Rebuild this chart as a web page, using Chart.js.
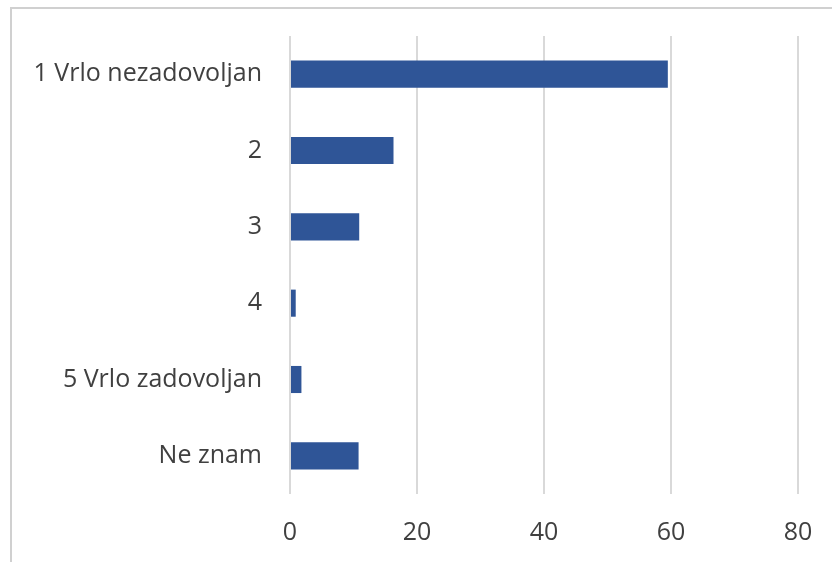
<!DOCTYPE html>
<html>
<head>
<meta charset="utf-8">
<script src="https://cdn.jsdelivr.net/npm/chart.js@4"></script>
<style>
  html, body { margin: 0; padding: 0; background: #fff; overflow: hidden; }
  #wrap { position: relative; width: 832px; height: 562px; }
  #frame { position: absolute; left: 10px; top: 7px; width: 900px; height: 700px;
           border: 2px solid #d0d0d0; box-sizing: border-box; }
  canvas { position: absolute; left: 0; top: 0; }
</style>
</head>
<body>
<div id="wrap">
  <div id="frame"></div>
  <canvas id="myChart" width="832" height="562"></canvas>
</div>
<script>
// Kategorije i vrijednosti
const kategorije = ['1 Vrlo nezadovoljan', '2', '3', '4', '5 Vrlo zadovoljan', 'Ne znam'];
const vrijednosti = [59.5, 16.3, 10.9, 0.9, 1.8, 10.8];
const xTicks = [0, 20, 40, 60, 80];

const font = { family: 'Open Sans', size: 25 };

const ctx = document.getElementById('myChart').getContext('2d');
new Chart(ctx, {
  type: 'bar',
  data: {
    labels: kategorije,
    datasets: [{
      data: vrijednosti,
      backgroundColor: '#2F5597',
      barPercentage: 0.355,
      categoryPercentage: 1
    }]
  },
  options: {
    indexAxis: 'y',
    responsive: false,
    animation: false,
    layout: { padding: { left: 0, top: 36, right: 34, bottom: 0 } },
    plugins: { legend: { display: false }, tooltip: { enabled: false } },
    scales: {
      x: {
        min: 0, max: 80,
        afterBuildTicks: axis => { axis.ticks = xTicks.map(v => ({ value: v })); },
        afterFit: axis => {
          axis.height = 562 - 494;
          axis.paddingLeft = 0;
          axis.paddingRight = 0;
        },
        grid: { color: '#d9d9d9', lineWidth: 2, drawTicks: false },
        border: { display: false },
        ticks: { color: '#404040', font, padding: 24, maxRotation: 0 }
      },
      y: {
        afterFit: axis => {
          axis.width = 290;
          axis.paddingTop = 0;
          axis.paddingBottom = 0;
        },
        grid: { display: false, drawTicks: false },
        border: { display: false },
        ticks: { color: '#404040', font, padding: 28 }
      }
    }
  }
});
</script>
</body>
</html>
